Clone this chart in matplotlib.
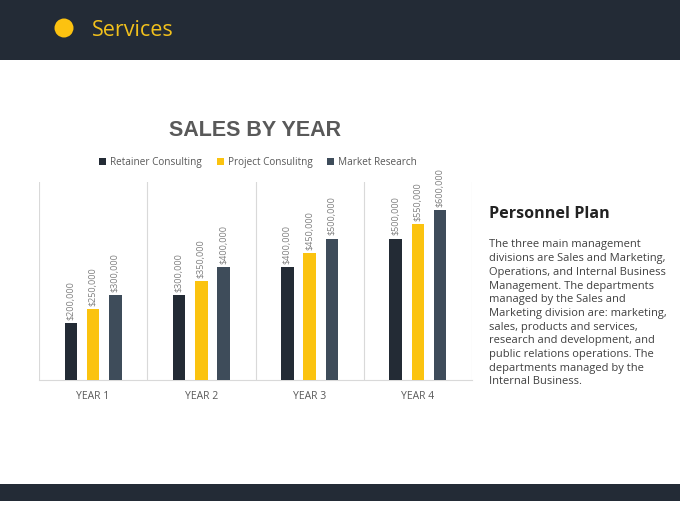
import matplotlib.pyplot as plt
from matplotlib.patches import Rectangle, Ellipse

categories = ['YEAR 1', 'YEAR 2', 'YEAR 3', 'YEAR 4']
series_names = ['Retainer Consulting', 'Project Consulitng', 'Market Research']
retainer = [200000, 300000, 400000, 500000]
project = [250000, 350000, 450000, 550000]
market = [300000, 400000, 500000, 600000]
colors = ['#232b35', '#fbc30f', '#3e4c5a']

body_lines = [
    'The three main management',
    'divisions are Sales and Marketing,',
    'Operations, and Internal Business',
    'Management. The departments',
    'managed by the Sales and',
    'Marketing division are: marketing,',
    'sales, products and services,',
    'research and development, and',
    'public relations operations. The',
    'departments managed by the',
    'Internal Business.',
]

W, H = 680, 510
fig = plt.figure(figsize=(6.8, 5.1), dpi=100)
fig.patch.set_facecolor('white')

# header and footer bands
fig.patches.append(Rectangle((0, 1 - 61 / H), 1, 61 / H, transform=fig.transFigure,
                             facecolor='#232b36', edgecolor='none', zorder=0))
fig.patches.append(Rectangle((0, 1 - 502 / H), 1, 17 / H, transform=fig.transFigure,
                             facecolor='#232b36', edgecolor='none', zorder=0))
fig.patches.append(Ellipse((64 / W, 1 - 29 / H), 19 / W, 19 / H, transform=fig.transFigure,
                           facecolor='#fcc210', edgecolor='none'))
fig.text(92 / W, 1 - 31 / H, 'Services', color='#f2c11c', fontsize=15.5,
         family='Open Sans', va='center', ha='left')

# chart
ax = fig.add_axes([39 / W, 1 - 381 / H, 433 / W, 198 / H])
x = list(range(len(categories)))
offsets = [-0.205, 0.0, 0.205]
width = 0.115
for vals, off, col, name in zip([retainer, project, market], offsets, colors, series_names):
    pos = [xi + off for xi in x]
    bars = ax.bar(pos, vals, width=width, color=col, label=name, zorder=3)
    for b, v in zip(bars, vals):
        ax.annotate('${:,}'.format(v), (b.get_x() + b.get_width() / 2, b.get_height()),
                    xytext=(0, 3), textcoords='offset points', rotation=90,
                    ha='center', va='bottom', fontsize=6.5, color='#7f7f7f',
                    family='Open Sans')

ax.set_xlim(-0.5, len(categories) - 0.5)
ax.set_ylim(0, 700000)
ax.set_yticks([])
ax.set_xticks(x)
ax.set_xticklabels(categories, fontsize=7.5, color='#595959', family='Open Sans')
ax.tick_params(axis='x', length=0, pad=7)
for xb in [-0.5, 0.5, 1.5, 2.5, 3.5]:
    ax.axvline(xb, color='#d9d9d9', linewidth=0.8, zorder=1)
for s in ['top', 'left', 'right']:
    ax.spines[s].set_visible(False)
ax.spines['bottom'].set_color('#d9d9d9')
ax.spines['bottom'].set_linewidth(0.8)

fig.text(255 / W, 1 - 131 / H, 'SALES BY YEAR', fontsize=15.5, fontweight='bold',
         color='#595959', family='Liberation Sans', ha='center', va='center')
fig.legend(loc='center', bbox_to_anchor=(258 / W, 1 - 163 / H), ncol=3, frameon=False,
           handlelength=0.7, handleheight=0.7, handletextpad=0.4,
           columnspacing=1.5, labelcolor='#595959', prop={'family': 'Open Sans', 'size': 7.2})

# side text
fig.text(489 / W, 1 - 214 / H, 'Personnel Plan', fontsize=11.6, fontweight='bold',
         color='#222222', family='Open Sans', ha='left', va='center')
for i, line in enumerate(body_lines):
    fig.text(489 / W, 1 - (245 + i * 13.7) / H, line, fontsize=8, color='#404040',
             family='Open Sans', ha='left', va='center')

fig.savefig('out.png', dpi=100)
